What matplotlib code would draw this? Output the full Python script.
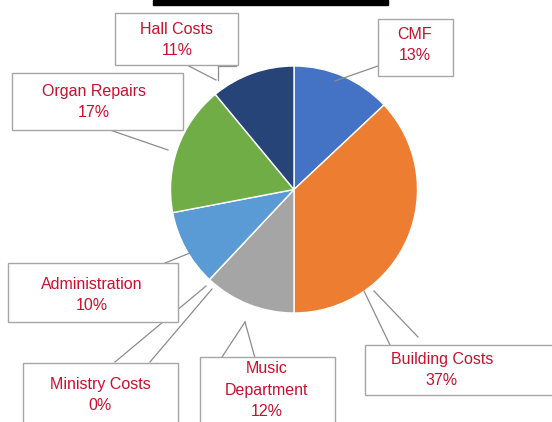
import matplotlib
matplotlib.use("Agg")
import matplotlib.pyplot as plt
from matplotlib.patches import Rectangle

categories = ["CMF", "Building Costs", "Music\nDepartment", "Ministry Costs",
              "Administration", "Organ Repairs", "Hall Costs"]
values = [13, 37, 12, 0, 10, 17, 11]
colors = ["#4472C4", "#ED7D31", "#A5A5A5", "#FFC000", "#5B9BD5", "#70AD47", "#264478"]

W, H = 552, 422
fig = plt.figure(figsize=(W / 100, H / 100), dpi=100)
ax = fig.add_axes([0, 0, 1, 1])

def Y(y):
    return H - y

# pie (pixel coordinates of centre, top-left origin)
cx, cy, r = 294, 189.5, 123.5
ax.pie(values, colors=colors, startangle=90, counterclock=False,
       center=(cx, Y(cy)), radius=r, frame=True,
       wedgeprops=dict(edgecolor="white", linewidth=1.0))
ax.set_xlim(0, W)
ax.set_ylim(0, H)
ax.set_aspect("equal")
ax.axis("off")

# cut-off title bar
ax.add_patch(Rectangle((153, Y(5)), 235, 5, color="black", zorder=5, clip_on=False))

# label boxes: (x0, y0, x1, y1) in px, text centre, leader lines
boxes = [
    ((378, 19, 453, 76), (415, 45), [((378, 66), (335, 81))]),
    ((365, 345, 560, 395), (442, 370), [((390, 345), (364, 291)), ((418, 337), (374, 291))]),
    ((200, 357, 335, 430), (267, 390), [((222, 357), (245, 322)), ((245, 322), (255, 358))]),
    ((23, 363, 178, 430), (100, 395), [((115, 362), (206, 286)), ((150, 362), (212, 289))]),
    ((8, 263, 178, 322), (92, 295), [((165, 263), (190, 253))]),
    ((12, 73, 183, 130), (94, 102), [((110, 130), (168, 150))]),
    ((115, 13, 238, 65), (177, 40), [((185, 64), (216, 80)), ((218, 66), (218, 80)), ((218, 66), (236, 66))]),
]

for (box, tc, lines), cat, v in zip(boxes, categories, values):
    x0, y0, x1, y1 = box
    ax.add_patch(Rectangle((x0, Y(y1)), x1 - x0, y1 - y0, facecolor="white",
                           edgecolor="#A6A6A6", linewidth=1.0, zorder=3, clip_on=False))
    ax.text(tc[0], Y(tc[1]), f"{cat}\n{v}%", ha="center", va="center",
            color="#C8102E", fontsize=11.5, family="Liberation Sans",
            linespacing=1.55, zorder=4)
    for (xa, ya), (xb, yb) in lines:
        ax.plot([xa, xb], [Y(ya), Y(yb)], color="#8C8C8C", lw=0.9, zorder=2)

fig.savefig("out.png", dpi=100)
